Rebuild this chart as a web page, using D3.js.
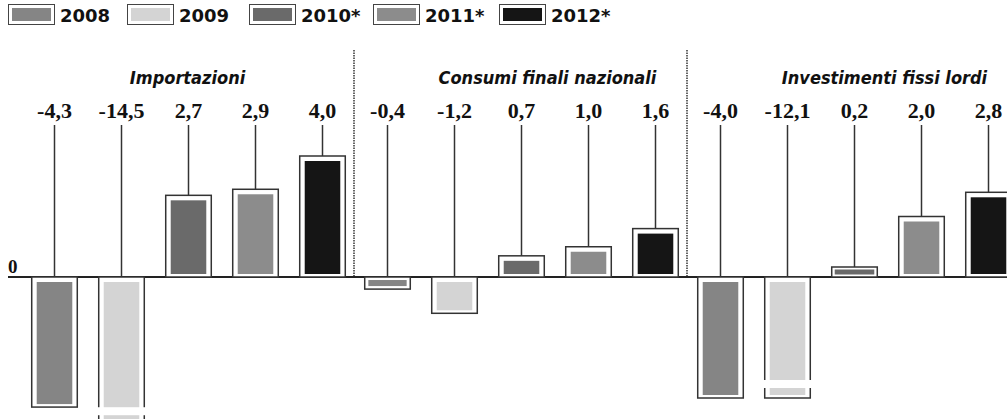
<!DOCTYPE html>
<html lang="it">
<head>
<meta charset="UTF-8">
<title>Importazioni, consumi, investimenti</title>
<script src="https://d3js.org/d3.v7.min.js"></script>
<style>
  html, body { margin: 0; padding: 0; background: #fff; }
  svg { display: block; }
  .legend-label { font-family: "DejaVu Sans", sans-serif; font-weight: bold; font-size: 18px; fill: #111; }
  .panel-title { font-family: "DejaVu Sans Condensed", "DejaVu Sans", sans-serif; font-weight: bold; font-style: italic; font-size: 18px; fill: #111; }
  .value-label { font-family: "Liberation Serif", serif; font-weight: bold; font-size: 22px; fill: #111; }
  .zero-label { font-family: "Liberation Serif", serif; font-weight: bold; font-size: 19px; fill: #111; }
</style>
</head>
<body>
<div id="chart"></div>
<script>
// Data
const panels = ["Importazioni", "Consumi finali nazionali", "Investimenti fissi lordi"];
const years = ["2008", "2009", "2010*", "2011*", "2012*"];
const importazioni = [-4.3, -14.5, 2.7, 2.9, 4.0];
const consumi = [-0.4, -1.2, 0.7, 1.0, 1.6];
const investimenti = [-4.0, -12.1, 0.2, 2.0, 2.8];
// value at which an out-of-scale bar is cut off (per panel)
const cutoffs = [-4.9, -4.9, -4.0];

const series = [importazioni, consumi, investimenti];

// Dimensions
const width = 1007;
const height = 419;
const zeroY = 277;
const labelY = 118;
const lineTop = 125;
const titleY = 84;
const titleShift = [0, 27, 31];

const fills = {
  "2008": "#858585",
  "2009": "#d4d4d4",
  "2010*": "#6a6a6a",
  "2011*": "#8c8c8c",
  "2012*": "#151515"
};

const locale = d3.formatLocale({ decimal: ",", thousands: ".", grouping: [3], currency: ["", "€"], minus: "-" });
const fmt = locale.format(".1f");

// Scales
const x0 = d3.scaleBand().domain(panels).range([21, 1020]).paddingInner(0);
const x1 = d3.scaleBand().domain(years).range([0, 335]).paddingInner(0.32).paddingOuter(0.16);
const y = d3.scaleLinear().domain([0, 4]).range([zeroY, 156]);

const svg = d3.select("#chart")
  .append("svg")
  .attr("width", width)
  .attr("height", height);

// Legend
const legendX = [8, 127, 249, 373, 499];
const legend = svg.selectAll(".legend")
  .data(years)
  .join("g")
  .attr("class", "legend")
  .attr("transform", (d, i) => `translate(${legendX[i]}, 4)`);

legend.append("rect")
  .attr("x", 0.5).attr("y", 0.5)
  .attr("width", 46).attr("height", 20)
  .attr("fill", "#fff")
  .attr("stroke", "#444")
  .attr("stroke-width", 1);

legend.append("rect")
  .attr("x", 4).attr("y", 4)
  .attr("width", 39).attr("height", 13)
  .attr("fill", d => fills[d]);

legend.append("text")
  .attr("class", "legend-label")
  .attr("x", 52)
  .attr("y", 18)
  .text(d => d);

// Dividers between panels
svg.selectAll(".divider")
  .data(panels.slice(1))
  .join("line")
  .attr("class", "divider")
  .attr("x1", d => x0(d)).attr("x2", d => x0(d))
  .attr("y1", 50).attr("y2", zeroY)
  .attr("stroke", "#333")
  .attr("stroke-width", 1.5)
  .attr("stroke-dasharray", "1.5,1");

// Zero line
svg.append("line")
  .attr("x1", 8).attr("x2", width)
  .attr("y1", zeroY).attr("y2", zeroY)
  .attr("stroke", "#222")
  .attr("stroke-width", 2);

svg.append("text")
  .attr("class", "zero-label")
  .attr("x", 8)
  .attr("y", zeroY - 4)
  .text("0");

// Panels
panels.forEach((p, pi) => {
  const g = svg.append("g").attr("transform", `translate(${x0(p)},0)`);
  const rows = years.map((yr, i) => ({ year: yr, value: series[pi][i] }));
  const cut = cutoffs[pi];

  g.append("text")
    .attr("class", "panel-title")
    .attr("x", x0.bandwidth() / 2 + titleShift[pi])
    .attr("y", titleY)
    .attr("text-anchor", "middle")
    .text(p);

  const cx = d => x1(d.year) + x1.bandwidth() / 2;

  g.selectAll(".value-label")
    .data(rows)
    .join("text")
    .attr("class", "value-label")
    .attr("x", cx)
    .attr("y", labelY)
    .attr("text-anchor", "middle")
    .text(d => fmt(d.value));

  const barTop = d => d.value >= 0 ? Math.min(y(d.value), zeroY - 10) : zeroY;
  const barBottom = d => d.value >= 0 ? zeroY : Math.max(y(Math.max(d.value, cut)), zeroY + 10);

  g.selectAll(".stem")
    .data(rows)
    .join("line")
    .attr("class", "stem")
    .attr("x1", cx).attr("x2", cx)
    .attr("y1", lineTop)
    .attr("y2", d => barTop(d))
    .attr("stroke", "#333")
    .attr("stroke-width", 1.5);

  const bars = g.selectAll(".bar")
    .data(rows)
    .join("g")
    .attr("class", "bar");

  bars.append("rect")
    .attr("x", d => x1(d.year))
    .attr("y", barTop)
    .attr("width", x1.bandwidth())
    .attr("height", d => barBottom(d) - barTop(d))
    .attr("fill", "#fff")
    .attr("stroke", "#333")
    .attr("stroke-width", 1.5);

  bars.append("rect")
    .attr("x", d => x1(d.year) + Math.min(5, (barBottom(d) - barTop(d)) * 0.3))
    .attr("y", d => barTop(d) + Math.min(5, (barBottom(d) - barTop(d)) * 0.25))
    .attr("width", d => x1.bandwidth() - 2 * Math.min(5, (barBottom(d) - barTop(d)) * 0.3))
    .attr("height", d => (barBottom(d) - barTop(d)) - 2 * Math.min(4, (barBottom(d) - barTop(d)) * 0.25))
    .attr("fill", d => fills[d.year]);

  // break mark for bars beyond the cut-off
  bars.filter(d => d.value < cut)
    .append("rect")
    .attr("x", d => x1(d.year) - 2)
    .attr("y", d => barBottom(d) - 18)
    .attr("width", x1.bandwidth() + 4)
    .attr("height", 8)
    .attr("fill", "#fff");
});
</script>
</body>
</html>
